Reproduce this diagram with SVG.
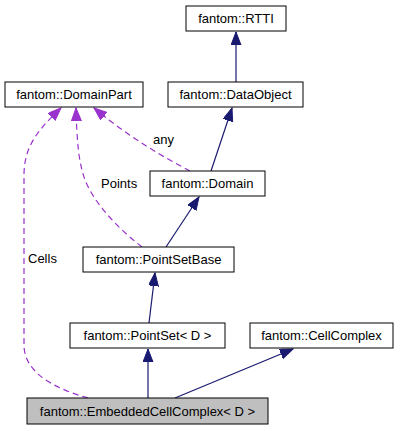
<svg xmlns="http://www.w3.org/2000/svg" width="401" height="431" viewBox="0 0 401 431">
<style>
.box{fill:#fff;stroke:#000;stroke-width:1}
.t{font-family:"Liberation Sans",Arial,sans-serif;font-size:13px;text-anchor:middle;fill:#000}
.lbl{font-family:"Liberation Sans",Arial,sans-serif;font-size:13px;fill:#000}
.inh{fill:none;stroke:#191970;stroke-width:1.2}
.use{fill:none;stroke:#9a32cd;stroke-width:1.2;stroke-dasharray:6,4}
</style>
<defs>
<marker id="ab" markerUnits="userSpaceOnUse" markerWidth="14" markerHeight="12" refX="13" refY="5" orient="auto">
<path d="M0,0 L13,5 L0,10 Z" fill="#191970" stroke="#191970"/>
</marker>
<marker id="ap" markerUnits="userSpaceOnUse" markerWidth="14" markerHeight="12" refX="13" refY="5" orient="auto">
<path d="M0,0 L13,5 L0,10 Z" fill="#9a32cd" stroke="#9a32cd"/>
</marker>
</defs>
<g id="edges">
<path class="inh" d="M236,82 L236,32" marker-end="url(#ab)"/>
<path class="inh" d="M211,171 L232,108" marker-end="url(#ab)"/>
<path class="inh" d="M166,247 L199,197" marker-end="url(#ab)"/>
<path class="inh" d="M149,323 L155,273" marker-end="url(#ab)"/>
<path class="inh" d="M148,398 L148,349" marker-end="url(#ab)"/>
<path class="inh" d="M175,398 L293,349" marker-end="url(#ab)"/>
<path class="use" d="M190,171 C165,158 130,138 94,108" marker-end="url(#ap)"/>
<path class="use" d="M142,247 C120,230 95,205 85,180 C78,160 77,140 76,108" marker-end="url(#ap)"/>
<path class="use" d="M88,398 C60,390 24,375 24,345 L24,175 C24,145 40,128 61,108" marker-end="url(#ap)"/>
<text class="lbl" x="153" y="144">any</text>
<text class="lbl" x="101" y="188">Points</text>
<text class="lbl" x="28" y="263">Cells</text>
</g>
<g id="RTTI"><rect class="box" x="186" y="6" width="100" height="25"/><text class="t" x="236" y="23">fantom::RTTI</text></g>
<g id="DomainPart"><rect class="box" x="5" y="82" width="138" height="25"/><text class="t" x="74" y="99">fantom::DomainPart</text></g>
<g id="DataObject"><rect class="box" x="168" y="82" width="135" height="25"/><text class="t" x="235.5" y="99">fantom::DataObject</text></g>
<g id="Domain"><rect class="box" x="150" y="171" width="115" height="25"/><text class="t" x="207.5" y="188">fantom::Domain</text></g>
<g id="PointSetBase"><rect class="box" x="83" y="247" width="151" height="25"/><text class="t" x="158.5" y="264">fantom::PointSetBase</text></g>
<g id="PointSet"><rect class="box" x="70" y="323" width="155" height="25"/><text class="t" x="147.5" y="340">fantom::PointSet&lt; D &gt;</text></g>
<g id="CellComplex"><rect class="box" x="250" y="323" width="143" height="25"/><text class="t" x="321.5" y="340">fantom::CellComplex</text></g>
<g id="EmbeddedCellComplex"><rect class="box" x="27" y="398" width="241" height="26" style="fill:#bfbfbf"/><text class="t" x="147.5" y="416">fantom::EmbeddedCellComplex&lt; D &gt;</text></g>
</svg>
